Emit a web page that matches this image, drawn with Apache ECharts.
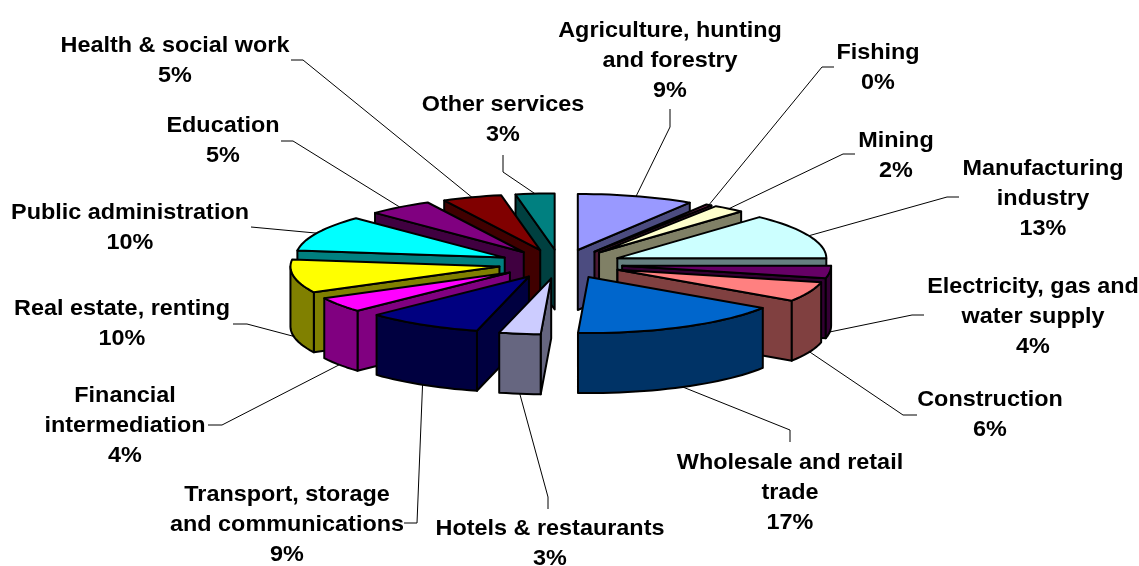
<!DOCTYPE html>
<html>
<head>
<meta charset="utf-8">
<style>
html, body { margin: 0; padding: 0; background: #fff; }
#main { width: 1139px; height: 566px; }
</style>
<script src="https://cdn.jsdelivr.net/npm/echarts@6/dist/echarts.min.js"></script>
</head>
<body>
<div id="main"></div>
<script>
const categories = ['Agriculture, hunting\nand forestry', 'Fishing', 'Mining', 'Manufacturing\nindustry',
    'Electricity, gas and\nwater supply', 'Construction', 'Wholesale and retail\ntrade', 'Hotels & restaurants',
    'Transport, storage\nand communications', 'Financial\nintermediation', 'Real estate, renting',
    'Public administration', 'Education', 'Health & social work', 'Other services'];
const shares = [9, 0.45, 2.45, 13.1, 3.6, 5.7, 16.5, 3.2, 9, 4.4, 9.6, 10.4, 5, 4.6, 3];
const topColors = ['#9999FF', '#993366', '#FFFFCC', '#CCFFFF', '#660066', '#FF8080', '#0066CC', '#CCCCFF',
    '#000080', '#FF00FF', '#FFFF00', '#00FFFF', '#800080', '#800000', '#008080'];
const sideColors = ['#4C4C80', '#4C1933', '#808066', '#668080', '#330033', '#804040', '#003366', '#666680',
    '#000040', '#800080', '#808000', '#008080', '#400040', '#400000', '#004040'];

// label centre x, first line y, then the leader's points after it leaves the slice
const labelLayout = [
    { x: 670, y: 31, leader: [[670, 127], [670, 109]] },
    { x: 878, y: 53, leader: [[822, 67], [834, 67]] },
    { x: 896, y: 141, leader: [[843, 154], [855, 154]] },
    { x: 1043, y: 169, leader: [[947, 197], [959, 197]] },
    { x: 1033, y: 287, leader: [[912, 315], [924, 315]] },
    { x: 990, y: 400, leader: [[903, 415], [917, 415]] },
    { x: 790, y: 463, leader: [[790, 430], [790, 442]] },
    { x: 550, y: 529, leader: [[548, 497], [548, 509]] },
    { x: 287, y: 495, leader: [[417, 523], [404, 523]] },
    { x: 125, y: 396, leader: [[222, 425], [208, 425]] },
    { x: 122, y: 309, leader: [[247, 324], [233, 324]] },
    { x: 130, y: 213, leader: [[251, 227]] },
    { x: 223, y: 126, leader: [[293, 141], [281, 141]] },
    { x: 175, y: 46, leader: [[303, 60], [291, 60]] },
    { x: 503, y: 105, leader: [[503, 172], [503, 155]] }
];

const centerX = 560.5, centerY = 264;
const explodeX = 62, explodeY = 14.6;
const radiusX = 209, radiusY = 56, depth = 60;
const lineHeight = 30;

const total = shares.reduce((a, b) => a + b, 0);
let running = 0;
const slices = shares.map((v, i) => {
    const start = running / total * 2 * Math.PI;
    running += v;
    const end = running / total * 2 * Math.PI;
    const mid = (start + end) / 2;
    return { index: i, start, end, mid,
        ax: centerX + explodeX * Math.sin(mid),
        ay: centerY - explodeY * Math.cos(mid) };
});
// back slices first, so that the near ones paint over them
const paintOrder = slices.slice().sort((a, b) => Math.cos(b.mid) - Math.cos(a.mid));

function rimPoint(s, angle) {
    return [s.ax + radiusX * Math.sin(angle), s.ay - radiusY * Math.cos(angle)];
}
function arcPoints(s, from, to) {
    const pts = [];
    const steps = Math.max(2, Math.ceil((to - from) / 0.04));
    for (let k = 0; k <= steps; k++) pts.push(rimPoint(s, from + (to - from) * k / steps));
    return pts;
}
function down(p) {
    return [p[0], p[1] + depth];
}
function poly(points, fill) {
    return { type: 'polygon', shape: { points },
        style: { fill, stroke: '#000', lineWidth: 2, lineJoin: 'round' } };
}

function renderSlice(params, api) {
    const s = slices[api.value(0)];
    const side = sideColors[s.index];
    const apex = [s.ax, s.ay];
    const children = [];
    if (Math.sin(s.start) < 0) {
        const p = rimPoint(s, s.start);
        children.push(poly([apex, p, down(p), down(apex)], side));
    }
    if (Math.sin(s.end) > 0) {
        const p = rimPoint(s, s.end);
        children.push(poly([apex, p, down(p), down(apex)], side));
    }
    // outer wall only where the rim faces the viewer
    const from = Math.max(s.start, Math.PI / 2), to = Math.min(s.end, Math.PI * 1.5);
    if (to > from) {
        const rim = arcPoints(s, from, to);
        children.push(poly(rim.concat(rim.map(down).reverse()), side));
    }
    children.push(poly([apex].concat(arcPoints(s, s.start, s.end)), topColors[s.index]));
    return { type: 'group', children };
}

function renderLabel(params, api) {
    const i = api.value(0);
    const s = slices[i];
    const layout = labelLayout[i];
    let from = rimPoint(s, s.mid);
    if (Math.cos(s.mid) < 0) from = down(from);
    const lines = categories[i].split('\n').concat(Math.round(shares[i] / total * 100) + '%');
    const children = [{ type: 'polyline', shape: { points: [from].concat(layout.leader) },
        style: { fill: null, stroke: '#000', lineWidth: 1 } }];
    lines.forEach((t, k) => {
        children.push({ type: 'text', x: layout.x, y: layout.y + k * lineHeight, scaleX: 1.04,
            style: { text: t, x: 0, y: 0, align: 'center', verticalAlign: 'middle', fill: '#000',
                font: 'bold 22.5px "Liberation Sans", Arial, sans-serif' } });
    });
    return { type: 'group', children };
}

const chart = echarts.init(document.getElementById('main'), null, { renderer: 'canvas' });
chart.setOption({
    animation: false,
    backgroundColor: '#fff',
    series: [
        { type: 'custom', coordinateSystem: 'none', renderItem: renderLabel, z: 1,
            data: slices.map(s => [s.index]), silent: true },
        { type: 'custom', coordinateSystem: 'none', renderItem: renderSlice, z: 2,
            data: paintOrder.map(s => [s.index]), silent: true }
    ]
});
</script>
</body>
</html>
